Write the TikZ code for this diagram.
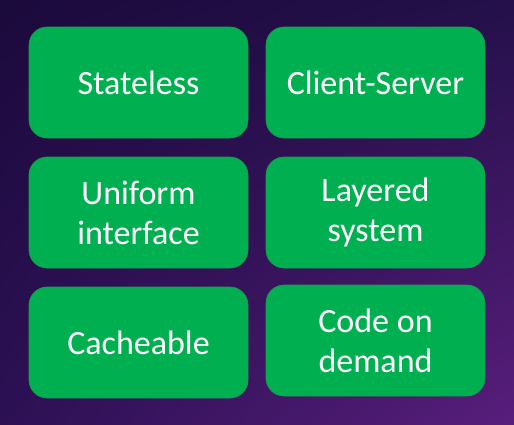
\documentclass[tikz,border=0pt]{standalone}
\usepackage{fontspec}
\setmainfont{Carlito}
\usetikzlibrary{shadings}
\begin{document}
\begin{tikzpicture}[x=1pt,y=-1pt,
  card/.style={fill=cardgreen, draw=cardedge, line width=0.6pt, rounded corners=18pt,
    minimum width=219pt, minimum height=111pt, inner sep=0pt, align=center,
    text=white, font=\fontsize{34}{40}\selectfont}]
\definecolor{cardgreen}{HTML}{00B050}
\definecolor{cardedge}{HTML}{1E9A4E}
\definecolor{bgtl}{HTML}{1B0A3C}
\definecolor{bgtr}{HTML}{24104A}
\definecolor{bgbl}{HTML}{2C1054}
\definecolor{bgbr}{HTML}{581E7C}
\useasboundingbox (0,0) rectangle (514,424);
\shade[upper left=bgtl, upper right=bgtr, lower left=bgbl, lower right=bgbr] (0,0) rectangle (514,424);
\node[card] (stateless) at (138.5,82.5) {Stateless};
\node[card] (clientserver) at (375.5,82.5) {Client-Server};
\node[card] (uniform) at (138.5,212.5) {Uniform\\interface};
\node[card] (layered) at (375.5,212.5) {Layered\\system};
\node[card] (cacheable) at (138.5,342.5) {Cacheable};
\node[card] (code) at (375.5,340.5) {Code on\\demand};
\end{tikzpicture}
\end{document}
